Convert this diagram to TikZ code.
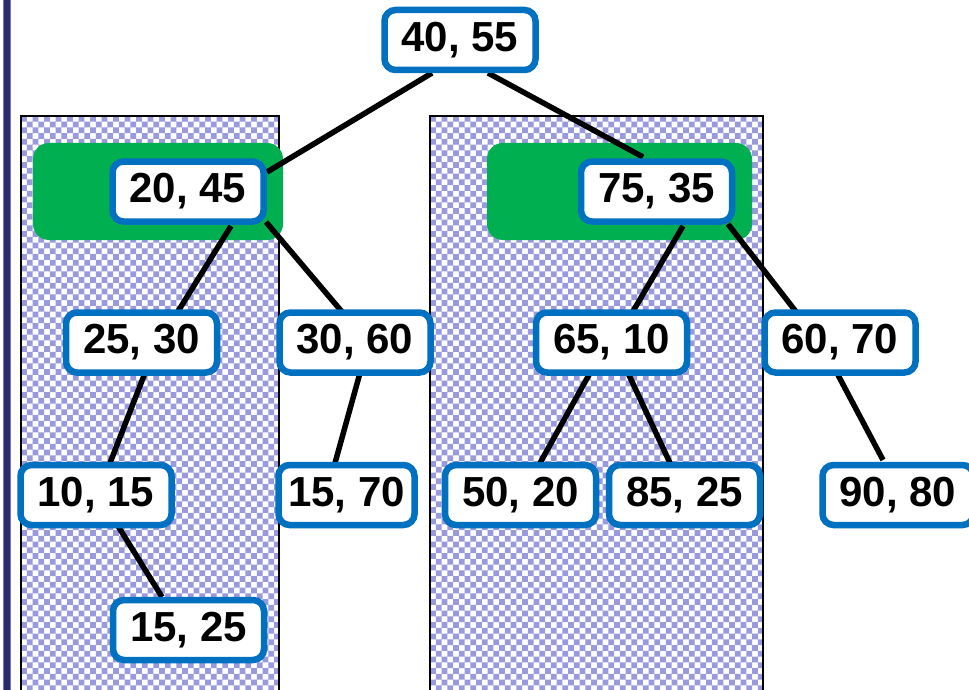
\documentclass[tikz,border=0pt]{standalone}
\usepackage{fontspec}
\setmainfont{Liberation Sans}
\usetikzlibrary{calc}
\definecolor{lav}{RGB}{153,153,221}
\definecolor{navy}{RGB}{42,42,112}
\definecolor{grn}{RGB}{0,176,80}
\definecolor{nblue}{RGB}{0,112,192}
\pgfdeclarelayer{bg}
\pgfdeclarelayer{edges}
\pgfsetlayers{bg,edges,main}
\tikzset{
  kd/.style={draw=nblue, fill=white, line width=6.5pt, rounded corners=11pt,
    minimum width=151pt, minimum height=60pt, inner sep=0pt,
    font=\fontsize{42}{42}\selectfont\bfseries, text=black},
  edge/.style={line width=5.5pt, draw=black},
  chkborder/.style={draw=black, line width=1.3pt},
  hl/.style={fill=grn, rounded corners=16pt},
}
\newcommand{\checkerfill}[4]{% x0,y0,ncols,nrows (tiles of 11.5)
  \begin{scope}
    \clip (#1,#2) rectangle (#1+400,695);
    \fill[white] (#1,#2) rectangle (#1+400,695);
    \fill[lav] foreach \i in {0,...,#3} { foreach \j in {0,...,#4} {
      ({#1+11.5*\i},{#2+11.5*\j}) rectangle +(5.75,5.75)
      ({#1+5.75+11.5*\i},{#2+5.75+11.5*\j}) rectangle +(5.75,5.75) } };
  \end{scope}}
\begin{document}
\begin{tikzpicture}[x=1pt,y=-1pt]
\useasboundingbox (0,0) rectangle (969,690);
% nodes
\node[kd] (root) at (460,40) {40, 55};
\node[kd] (n2045) at (188,191.5) {20, 45};
\node[kd] (n7535) at (656.5,191.5) {75, 35};
\node[kd] (n2530) at (141.5,342.5) {25, 30};
\node[kd] (n3060) at (355,342.5) {30, 60};
\node[kd] (n6510) at (611.5,342.5) {65, 10};
\node[kd] (n6070) at (840,342.5) {60, 70};
\node[kd] (n1015) at (96,495) {10, 15};
\node[kd, minimum width=136pt] (n1570) at (346.5,495) {15, 70};
\node[kd] (n5020) at (520.5,495) {50, 20};
\node[kd] (n8525) at (684.5,495) {85, 25};
\node[kd] (n9080) at (898,495) {90, 80};
\node[kd] (n1525) at (188.5,630) {15, 25};
\begin{pgfonlayer}{bg}
  \fill[white] (0,0) rectangle (969,690);
  \fill[navy, draw=lav!70!navy, line width=0.8pt] (3,-2) rectangle (10.5,692);
  \begin{scope}
    \clip (21,116) rectangle (279,695);
    \fill[white] (21,116) rectangle (279,695);
    \fill[lav] foreach \i in {0,...,22} { foreach \j in {0,...,50} {
      ({21+11.5*\i},{116+11.5*\j}) rectangle +(5.75,5.75)
      ({26.75+11.5*\i},{121.75+11.5*\j}) rectangle +(5.75,5.75) } };
  \end{scope}
  \begin{scope}
    \clip (430,116) rectangle (763,695);
    \fill[white] (430,116) rectangle (763,695);
    \fill[lav] foreach \i in {0,...,29} { foreach \j in {0,...,50} {
      ({430+11.5*\i},{116+11.5*\j}) rectangle +(5.75,5.75)
      ({435.75+11.5*\i},{121.75+11.5*\j}) rectangle +(5.75,5.75) } };
  \end{scope}
  \draw[chkborder] (21,695) -- (21,116) -- (279,116) -- (279,695);
  \draw[chkborder] (430,695) -- (430,116) -- (763,116) -- (763,695);
  \path[hl] (33,143) rectangle (283,240);
  \path[hl] (487,143) rectangle (752,240);
\end{pgfonlayer}
\begin{pgfonlayer}{edges}
  \draw[edge] ($(root)+(-28,33)$) -- ($(n2045)+(79,-19.5)$);
  \draw[edge] ($(root)+(28,33)$) -- ($(n7535)+(-13.5,-34.5)$);
  \draw[edge] ($(n2045)+(43,34.5)$) -- ($(n2530)+(35.5,-29.5)$);
  \draw[edge] ($(n2045)+(78,30.5)$) -- ($(n3060)+(-12,-29.5)$);
  \draw[edge] ($(n7535)+(26.5,34.5)$) -- ($(n6510)+(20.5,-29.5)$);
  \draw[edge] ($(n7535)+(71.5,32.5)$) -- ($(n6070)+(-43,-29.5)$);
  \draw[edge] ($(n2530)+(3.5,30.5)$) -- ($(n1015)+(14,-32)$);
  \draw[edge] ($(n3060)+(5,30.5)$) -- ($(n1570)+(-11.5,-32)$);
  \draw[edge] ($(n6510)+(-21.5,30.5)$) -- ($(n5020)+(19.5,-32)$);
  \draw[edge] ($(n6510)+(16.5,30.5)$) -- ($(n8525)+(-14.5,-32)$);
  \draw[edge] ($(n6070)+(-2,32.5)$) -- ($(n9080)+(-15,-35)$);
  \draw[edge] ($(n1015)+(22,31)$) -- ($(n1525)+(-26.5,-33)$);
\end{pgfonlayer}
\end{tikzpicture}
\end{document}
